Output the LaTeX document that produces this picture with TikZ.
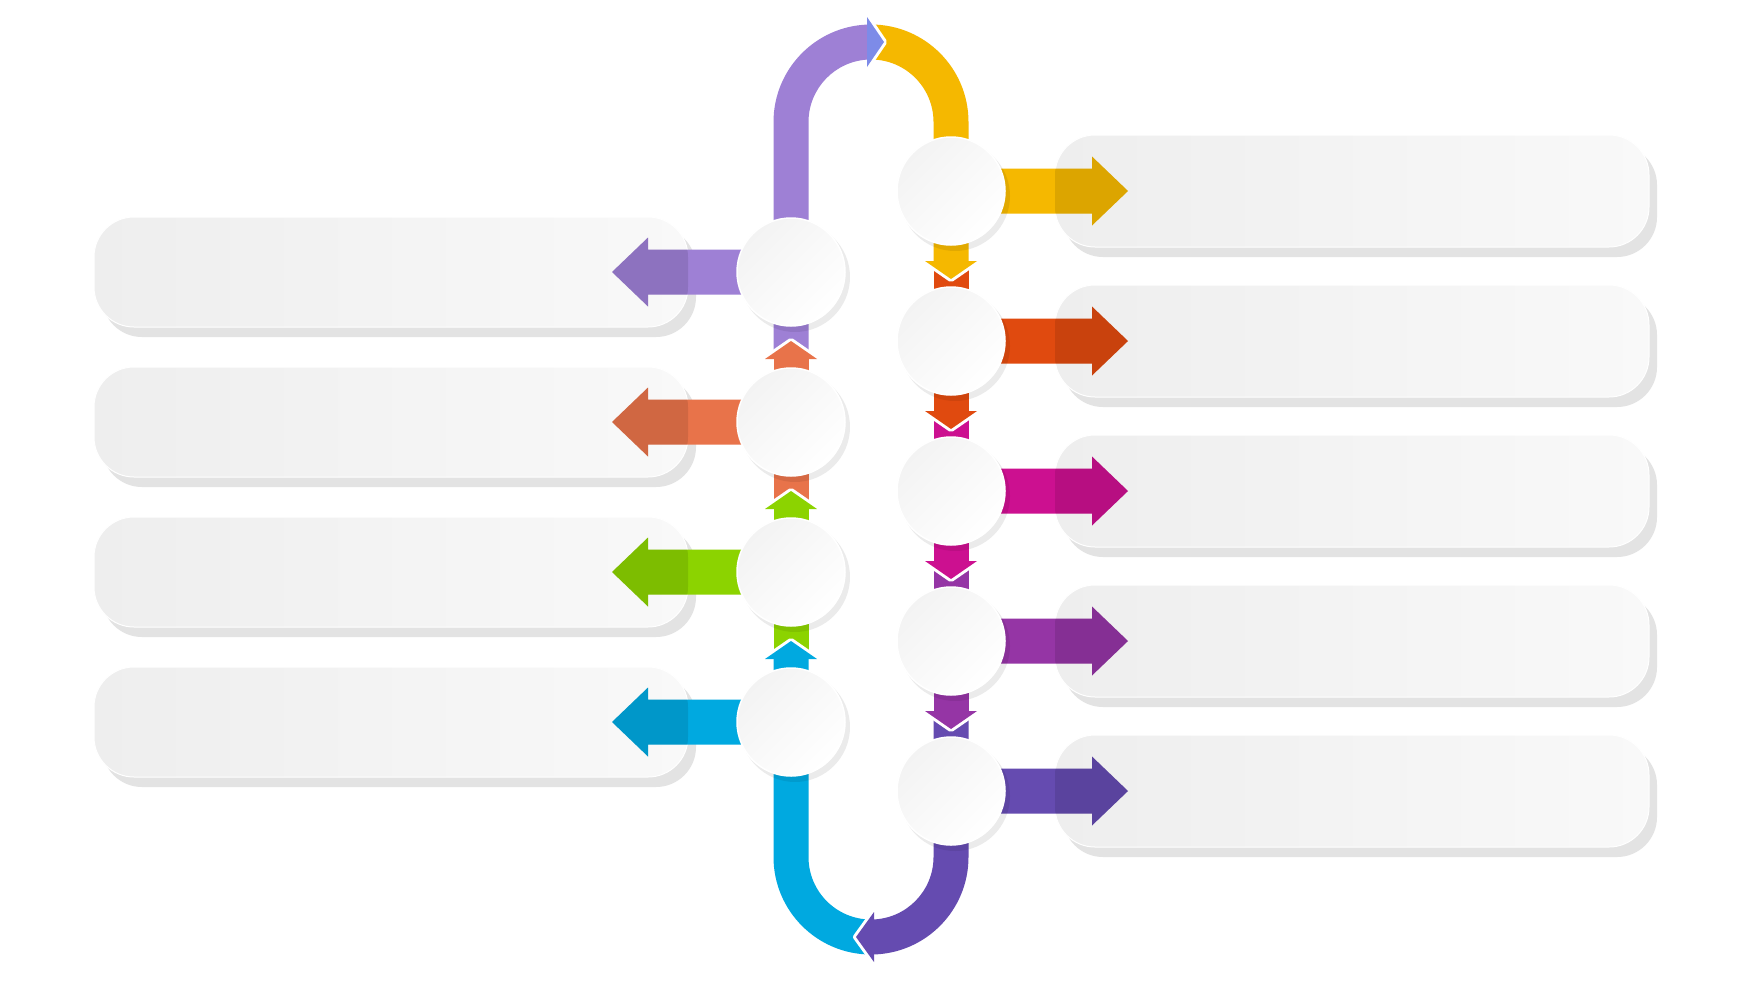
\documentclass[tikz,border=0pt]{standalone}
\definecolor{cP}{HTML}{9E80D5}
\definecolor{cPh}{HTML}{7D8BE8}
\definecolor{cO}{HTML}{E8734A}
\definecolor{cG}{HTML}{8CD300}
\definecolor{cC}{HTML}{00A9E0}
\definecolor{cY}{HTML}{F5B800}
\definecolor{cR}{HTML}{E04A0F}
\definecolor{cM}{HTML}{CC1090}
\definecolor{cV}{HTML}{9535A5}
\definecolor{cU}{HTML}{654BB0}
\definecolor{boxL}{HTML}{EEEEEE}
\definecolor{boxR}{HTML}{F9F9F9}
\definecolor{boxS}{HTML}{E3E3E3}
\definecolor{discA}{HTML}{F3F3F3}
\definecolor{discB}{HTML}{FFFFFF}
\tikzset{
  disc/.style={circle, minimum size=108pt, inner sep=0pt, draw=white, line width=1.5pt,
    left color=discA, right color=discB, shading angle=45},
  boxshade/.style={rounded corners=40pt, left color=boxL, right color=boxR, draw=white, line width=1pt},
  boxshadow/.style={rounded corners=40pt, fill=boxS},
  gapline/.style={draw=white, line width=6pt, line join=round},
  discshadow/.style={fill=black, opacity=0.08},
  darken/.style={fill=black, opacity=0.1}
}
\newcommand\LArrowPath[1]{(791,#1-22.5) -- (648,#1-22.5) -- (648,#1-34.5) -- (612,#1) -- (648,#1+34.5) -- (648,#1+22.5) -- (791,#1+22.5) -- cycle}
\newcommand\RArrowPath[1]{(951,#1-22.5) -- (1092,#1-22.5) -- (1092,#1-34.5) -- (1128,#1) -- (1092,#1+34.5) -- (1092,#1+22.5) -- (951,#1+22.5) -- cycle}
\newcommand\UpHead[2]{%
  \draw[gapline] (765,#2) -- (791,#2-18) -- (817,#2);
  \fill[#1] (765,#2) -- (791,#2-18) -- (817,#2) -- cycle;}
\newcommand\DownHead[2]{%
  \draw[gapline] (925,#2) -- (951,#2+18) -- (977,#2);
  \fill[#1] (925,#2) -- (951,#2+18) -- (977,#2) -- cycle;}
\begin{document}
\begin{tikzpicture}[x=1pt, y=1pt, yscale=-1]
\useasboundingbox (0,0) rectangle (1742,980);
\fill[white] (0,0) rectangle (1742,980);

% text boxes
\foreach \cy in {272,422,572,722}{
  \fill[boxshadow] (102,\cy-45) rectangle (696,\cy+65);
  \shade[boxshade] (94,\cy-55) rectangle (688,\cy+55);
}
\foreach \cy in {191,341,491,641,791}{
  \fill[boxshadow] (1063,\cy-46) rectangle (1657,\cy+66);
  \shade[boxshade] (1055,\cy-56) rectangle (1649,\cy+56);
}

% bands
\fill[cP] (773.5,356) -- (773.5,122) arc[start angle=180, end angle=268, radius=97.5]
  -- ++(88:35) arc[start angle=268, end angle=180, radius=62.5] -- (808.5,356) -- cycle;
\fill[cY] (871,24.5) arc[start angle=270, end angle=360, radius=97.5] -- (968.5,263)
  -- (933.5,263) -- (933.5,122) arc[start angle=360, end angle=270, radius=62.5] -- cycle;
\fill[cR] (933.5,264) rectangle (968.5,413);
\fill[cM] (933.5,414) rectangle (968.5,563);
\fill[cV] (933.5,564) rectangle (968.5,713);
\fill[cU] (933.5,714) -- (933.5,857) arc[start angle=0, end angle=89, radius=62.5]
  -- ++(89:35) arc[start angle=89, end angle=0, radius=97.5] -- (968.5,714) -- cycle;
\fill[cC] (871,954.5) arc[start angle=90, end angle=180, radius=97.5] -- (773.5,657)
  -- (808.5,657) -- (808.5,857) arc[start angle=180, end angle=90, radius=62.5] -- cycle;
\fill[cG] (773.5,656) rectangle (808.5,507);
\fill[cO] (773.5,506) rectangle (808.5,357);

% horizontal arrows
\foreach \cy/\c in {272/cP,422/cO,572/cG,722/cC}{
  \fill[\c] \LArrowPath{\cy};
  \begin{scope}
    \clip[rounded corners=40pt] (94,\cy-55) rectangle (688,\cy+55);
    \fill[darken] \LArrowPath{\cy};
  \end{scope}
}
\foreach \cy/\c in {191/cY,341/cR,491/cM,641/cV,791/cU}{
  \fill[\c] \RArrowPath{\cy};
  \begin{scope}
    \clip[rounded corners=40pt] (1055,\cy-56) rectangle (1649,\cy+56);
    \fill[darken] \RArrowPath{\cy};
  \end{scope}
}

% heads
\UpHead{cC}{659}
\UpHead{cG}{509}
\UpHead{cO}{359}
\DownHead{cY}{261}
\DownHead{cR}{411}
\DownHead{cM}{561}
\DownHead{cV}{711}
\draw[gapline] (867,17) -- (884,42) -- (867,67);
\fill[cPh] (867,17) -- (884,42) -- (867,67) -- cycle;
\draw[gapline] (874,912) -- (856,937) -- (874,962);
\fill[cU] (874,912) -- (856,937) -- (874,962) -- cycle;

% discs
\foreach \n/\x/\y in {L1/791/272, L2/791/422, L3/791/572, L4/791/722,
                      R1/951/191, R2/951/341, R3/951/491, R4/951/641, R5/951/791}{
  \fill[discshadow] (\x+4,\y+5) circle (55);
  \node[disc] (\n) at (\x,\y) {};
}
\end{tikzpicture}
\end{document}
